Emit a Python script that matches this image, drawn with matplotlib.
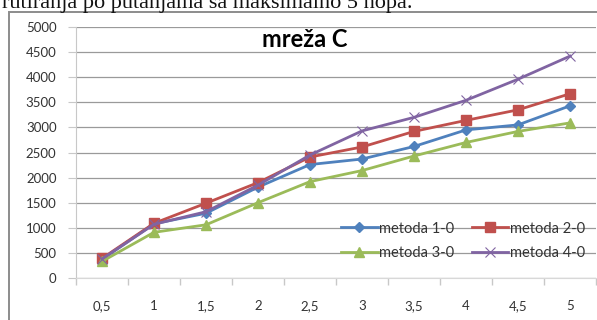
import matplotlib
matplotlib.use("Agg")
import matplotlib.pyplot as plt
from matplotlib.patches import Rectangle

categories = ["0,5", "1", "1,5", "2", "2,5", "3", "3,5", "4", "4,5", "5"]
metoda_1 = [370, 1080, 1290, 1810, 2260, 2370, 2620, 2950, 3050, 3430]
metoda_2 = [390, 1090, 1490, 1900, 2410, 2610, 2920, 3140, 3350, 3670]
metoda_3 = [330, 910, 1060, 1500, 1920, 2140, 2430, 2700, 2920, 3090]
metoda_4 = [380, 1070, 1320, 1850, 2450, 2930, 3200, 3540, 3960, 4420]
series_names = ["metoda 1-0", "metoda 2-0", "metoda 3-0", "metoda 4-0"]
y_ticks = list(range(0, 5001, 500))

W, H = 597, 320
fig = plt.figure(figsize=(W / 100, H / 100), dpi=100)
fig.patch.set_facecolor("white")

# caption line of the surrounding document, only its lower part shows
fig.text(0.003, 1 - 8 / H, "rutiranja po putanjama sa maksimalno 5 hopa.",
         family="Liberation Serif", fontsize=16, ha="left", va="baseline",
         color="#111111")

# chart frame
fig.patches.append(Rectangle((9 / W, -0.1), 1.2, (H - 12) / H + 0.1,
                             transform=fig.transFigure, fill=False,
                             edgecolor="#8c8c8c", linewidth=1.4))

ax = fig.add_axes([76 / W, (H - 278) / H, 520 / W, 251 / H])
ax.set_facecolor("white")

x = list(range(len(categories)))
styles = [
    (metoda_1, "#4F81BD", "D", 5.5, 1.0),
    (metoda_2, "#C0504D", "s", 7.5, 1.0),
    (metoda_3, "#9BBB59", "^", 7.5, 1.0),
    (metoda_4, "#8064A2", "x", 7.0, 0.8),
]
lines = []
for (vals, col, mk, ms, mew), name in zip(styles, series_names):
    ln, = ax.plot(x, vals, color=col, marker=mk, markersize=ms,
                  markeredgewidth=mew, linewidth=2.0, label=name, zorder=3)
    lines.append(ln)

ax.set_xlim(-0.5, len(categories) - 0.5)
ax.set_ylim(0, 5000)
ax.set_yticks(y_ticks)
ax.set_yticklabels([str(v) for v in y_ticks])
ax.set_xticks(x)
ax.set_xticklabels(categories)
ax.set_xticks([i + 0.5 for i in range(-1, len(categories))], minor=True)

ax.grid(axis="y", color="#9a9a9a", linewidth=0.9, zorder=0)
for s in ["top", "right"]:
    ax.spines[s].set_visible(False)
ax.spines["left"].set_color("#c8c8c8")
ax.spines["bottom"].set_color("#d8d8d8")

ax.tick_params(axis="x", which="major", length=0, pad=16, labelsize=9.5,
               colors="#333333")
ax.tick_params(axis="x", which="minor", length=5, color="#c8c8c8", width=1)
ax.tick_params(axis="y", length=6, color="#c8c8c8", pad=8, labelsize=9.5,
               colors="#333333")
for lab in ax.get_xticklabels() + ax.get_yticklabels():
    lab.set_family("Lato")

fig.text(305 / W, 1 - 47 / H, "mreža C", family="Lato", fontweight="bold",
         fontsize=17, ha="center", va="baseline")

# legend filled row by row: 1-0, 2-0 / 3-0, 4-0
order = [0, 2, 1, 3]
leg = ax.legend([lines[i] for i in order], [series_names[i] for i in order],
                ncol=2, loc="center", bbox_to_anchor=(463 / W, 1 - 241 / H),
                bbox_transform=fig.transFigure, frameon=False,
                prop={"family": "Lato", "size": 10.5}, handlelength=2.5,
                handletextpad=0.1, columnspacing=1.2, labelspacing=0.75)
for t in leg.get_texts():
    t.set_color("#333333")

fig.savefig("out.png", dpi=100)
